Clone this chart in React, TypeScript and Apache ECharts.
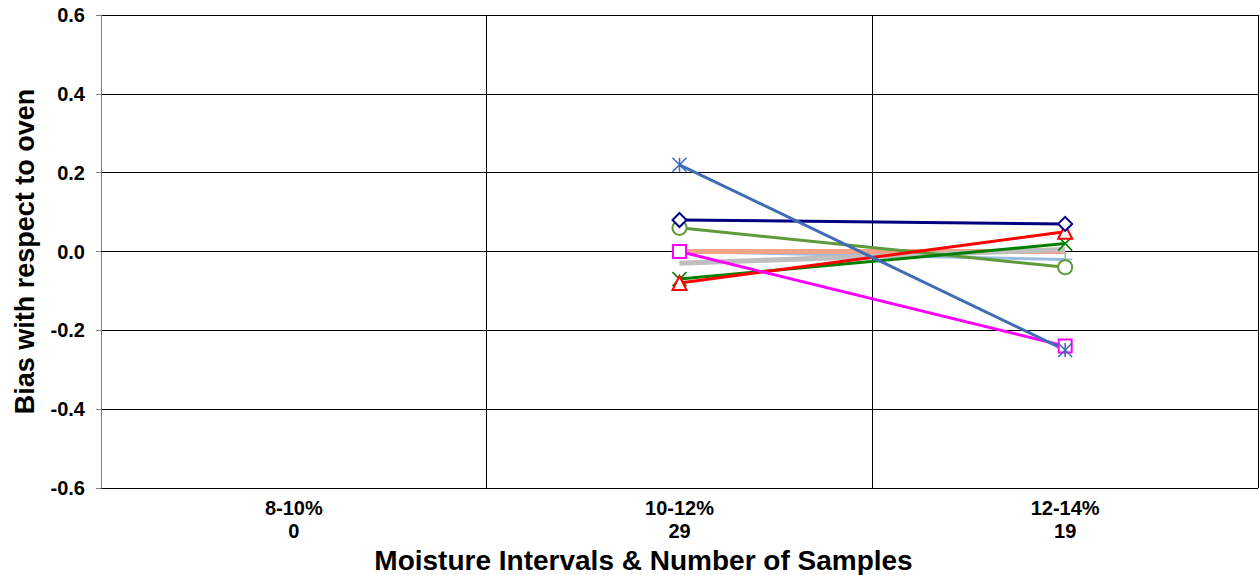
import React, { useEffect, useRef } from "react";
import * as echarts from "echarts";

const categories = ["8-10%\n0", "10-12%\n29", "12-14%\n19"];
const yTicks = [-0.6, -0.4, -0.2, 0, 0.2, 0.4, 0.6];

const sSalmon = [null, 0.0, 0.0];
const sGray = [null, -0.03, 0.005];
const sLightBlue = [null, 0.0, -0.02];
const sOlive = [null, 0.06, -0.04];
const sGreen = [null, -0.07, 0.02];
const sRed = [null, -0.08, 0.05];
const sNavy = [null, 0.08, 0.07];
const sMagenta = [null, 0.0, -0.24];
const sBlue = [null, 0.22, -0.25];

const PLUS = "path://M5 0 L5 10 M0 5 L10 5";
const CROSS = "path://M0 0 L10 10 M10 0 L0 10";
const STAR = "path://M0 0 L10 10 M10 0 L0 10 M5 0 L5 10";

const FONT = "Liberation Sans, Arial, sans-serif";

function mk(name: string, data: (number | null)[], color: string, width: number, symbol: string, size: number, stroked: boolean) {
  return {
    name,
    type: "line",
    data,
    symbol,
    symbolSize: size,
    showSymbol: symbol !== "none",
    lineStyle: { color, width },
    itemStyle: stroked
      ? { color: "rgba(0,0,0,0)", borderColor: color, borderWidth: 1.6 }
      : { color, borderColor: color, borderWidth: 1.4 },
    emphasis: { disabled: true },
  };
}

export default function App() {
  const ref = useRef<HTMLDivElement>(null);
  useEffect(() => {
    const chart = echarts.init(ref.current!, null, { renderer: "svg" });
    chart.setOption({
      animation: false,
      backgroundColor: "#fff",
      grid: { left: 101, right: 1, top: 15, bottom: 87, outerBoundsMode: "none", containLabel: false },
      xAxis: {
        type: "category",
        data: categories,
        boundaryGap: true,
        axisLine: { lineStyle: { color: "#000", width: 1 } },
        axisTick: { show: false },
        splitLine: { show: true, lineStyle: { color: "#000", width: 1 } },
        axisLabel: {
          fontFamily: FONT,
          fontWeight: "bold",
          fontSize: 20,
          color: "#000",
          lineHeight: 23,
          margin: 8,
        },
        name: "Moisture Intervals & Number of Samples",
        nameLocation: "middle",
        nameGap: 54,
        nameTextStyle: {
          fontFamily: FONT,
          fontWeight: "bold",
          fontSize: 28,
          lineHeight: 28,
          color: "#000",
          padding: [0, 72, 0, 0],
        },
      },
      yAxis: {
        type: "value",
        min: -0.6,
        max: 0.6,
        interval: 0.2,
        axisLine: { show: true, lineStyle: { color: "#808080", width: 1 } },
        axisTick: { show: true, inside: false, length: 5, lineStyle: { color: "#808080" } },
        splitLine: { show: true, lineStyle: { color: "#000", width: 1 } },
        axisLabel: {
          fontFamily: FONT,
          fontWeight: "bold",
          fontSize: 20,
          color: "#000",
          margin: 16,
          formatter: (v: number) => {
            const t = yTicks.find((x) => Math.abs(x - v) < 1e-9);
            return (t !== undefined ? t : v).toFixed(1);
          },
        },
        name: "Bias with respect to oven",
        nameLocation: "middle",
        nameGap: 63,
        nameRotate: 90,
        nameTextStyle: {
          fontFamily: FONT,
          fontWeight: "bold",
          fontSize: 27,
          color: "#000",
        },
      },
      series: [
        mk("lightblue", sLightBlue, "#99BBE0", 3, PLUS, 14, true),
        mk("salmon", sSalmon, "#F2A287", 5, "none", 0, false),
        mk("gray", sGray, "#BFBFBF", 5, "none", 0, false),
        mk("olive", sOlive, "#5F9A3A", 3, "emptyCircle", 14, false),
        mk("green", sGreen, "#008000", 3, CROSS, 14, true),
        mk("red", sRed, "#FF0000", 3, "emptyTriangle", 14, false),
        mk("navy", sNavy, "#000080", 3, "emptyDiamond", 14, false),
        mk("magenta", sMagenta, "#FF00FF", 3, "emptyRect", 13, false),
        mk("blue", sBlue, "#3F6CB5", 3, STAR, 14, true),
      ],
    });
    return () => chart.dispose();
  }, []);
  return <div ref={ref} style={{ width: 1259, height: 575, position: "absolute", left: 0, top: 0 }} />;
}
